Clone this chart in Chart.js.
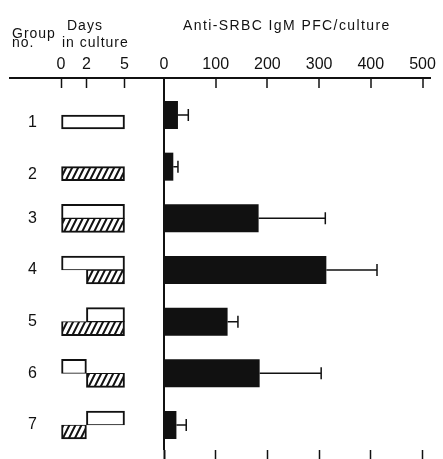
<!DOCTYPE html>
<html>
<head>
<meta charset="utf-8">
<title>Anti-SRBC IgM PFC per culture</title>
<script src="https://cdn.jsdelivr.net/npm/chart.js@4.4.1/dist/chart.umd.min.js"></script>
<style>
  html, body { margin: 0; padding: 0; background: #fff; }
  #wrap { position: relative; width: 443px; height: 459px; overflow: hidden; }
  #chart { position: absolute; left: 0; top: 0; }
  .hdr {
    position: absolute; font: 14px 'Liberation Sans', Arial, sans-serif;
    line-height: 14px; letter-spacing: 1px; color: #111; white-space: nowrap;
  }
</style>
</head>
<body>
<div id="wrap">
  <canvas id="chart" width="443" height="459"></canvas>
  <div class="hdr" style="left:12px; top:26px">Group</div>
  <div class="hdr" style="left:12px; top:35px">no.</div>
  <div class="hdr" style="left:67px; top:18px">Days</div>
  <div class="hdr" style="left:62px; top:35px">in culture</div>
  <div class="hdr" style="left:183px; top:18px; letter-spacing:1.4px">Anti-SRBC IgM PFC/culture</div>
</div>
<script>
// groups, top to bottom
const groups = [1, 2, 3, 4, 5, 6, 7];
const groupLabels = ['1', '2', '3', '4', '5', '6', '7'];

// culture schedule in days: upper row is the open box, lower row hatched (except group 1)
const upperDays = [null, null, [0, 5], [0, 5], [2, 5], [0, 2], [2, 5]];
const lowerDays = [[0, 5], [0, 5], [0, 5], [2, 5], [0, 5], [2, 5], [0, 2]];
const lowerHatched = [false, true, true, true, true, true, true];

// anti-SRBC IgM PFC / culture: mean and the (+) error
const pfcMean = [27, 18, 183, 314, 123, 185, 24];
const pfcErr = [20, 9, 129, 98, 20, 119, 19];

const dayTicks = [0, 2, 5];
const pfcTicks = [0, 100, 200, 300, 400, 500];

const INK = '#111';
const tickFont = { family: "'Liberation Sans', Arial, sans-serif", size: 16 };

// the days axis and the PFC axis share the top edge, side by side
const DAYS_W = 154, PFC_W = 266, PFC_MAX = 514.5;

function only(vals) {
  return (scale) => { scale.ticks = vals.map((v) => ({ value: v })); };
}
// fixed scale box size, and no extra label padding pushed onto the chart area
function fixed(prop, px) {
  return (s) => {
    s[prop] = px;
    s.paddingLeft = s.paddingRight = s.paddingTop = s.paddingBottom = 0;
  };
}
const isZero = (c) => !!(c.tick && c.tick.value === 0);

// diagonal hatching for the lower boxes
function makeHatch() {
  const c = document.createElement('canvas');
  c.width = 6; c.height = 12;
  const g = c.getContext('2d');
  g.fillStyle = '#fff';
  g.fillRect(0, 0, 6, 12);
  g.strokeStyle = INK;
  g.lineWidth = 2;
  g.beginPath();
  [-6, 0, 6].forEach((dx) => { g.moveTo(-1 + dx, 14); g.lineTo(7 + dx, -2); });
  g.stroke();
  return g.createPattern(c, 'repeat');
}
const hatch = makeHatch();

// + error whiskers on the PFC bars
const errorBars = {
  id: 'errorBars',
  afterDatasetsDraw(chart) {
    const meta = chart.getDatasetMeta(0);
    const x = chart.scales.x;
    const ctx = chart.ctx;
    ctx.save();
    ctx.strokeStyle = INK;
    ctx.lineWidth = 1.5;
    meta.data.forEach((bar, i) => {
      const x0 = x.getPixelForValue(pfcMean[i]);
      const x1 = x.getPixelForValue(pfcMean[i] + pfcErr[i]);
      ctx.beginPath();
      ctx.moveTo(x0, bar.y); ctx.lineTo(x1, bar.y);
      ctx.moveTo(x1, bar.y - 6); ctx.lineTo(x1, bar.y + 6);
      ctx.stroke();
    });
    ctx.restore();
  }
};

const groupAxis = {
  type: 'linear', reverse: true, min: 0.284, max: 7.484, offset: false,
  afterBuildTicks: only(groups)
};

new Chart(document.getElementById('chart'), {
  type: 'bar',
  data: {
    datasets: [
      {
        label: 'PFC/culture',
        xAxisID: 'x', yAxisID: 'y',
        data: groups.map((g, i) => ({ x: pfcMean[i], y: g })),
        backgroundColor: INK, borderWidth: 0,
        grouped: false, barPercentage: 1, maxBarThickness: 28
      },
      {
        label: 'upper',
        xAxisID: 'xd', yAxisID: 'yd',
        data: groups.map((g, i) => ({ x: upperDays[i], y: g })).filter((d) => d.x),
        backgroundColor: '#fff', borderColor: INK, borderSkipped: false,
        borderWidth: { top: 2, left: 2, right: 2, bottom: 1 },
        barThickness: 14
      },
      {
        label: 'lower',
        xAxisID: 'xd', yAxisID: 'yd',
        data: groups.map((g, i) => ({ x: lowerDays[i], y: g })),
        backgroundColor: (c) => (lowerHatched[c.dataIndex] ? hatch : '#fff'),
        borderColor: INK, borderSkipped: false,
        borderWidth: (c) => ({ top: upperDays[c.dataIndex] ? 1 : 2, left: 2, right: 2, bottom: 2 }),
        barThickness: 14
      }
    ]
  },
  options: {
    indexAxis: 'y',
    responsive: false,
    animation: false,
    devicePixelRatio: 1,
    layout: { padding: { left: 0, right: 13, top: 0, bottom: 0 } },
    plugins: { legend: { display: false }, tooltip: { enabled: false } },
    scales: {
      xd: {
        type: 'linear', position: 'top', stack: 'head', stackWeight: DAYS_W, weight: 1,
        min: -4.02, max: 8.11,
        afterBuildTicks: only(dayTicks),
        border: { color: INK, width: 2 },
        grid: { drawOnChartArea: false, tickLength: -10, tickColor: INK, tickWidth: 1.5 },
        ticks: { color: INK, font: tickFont, padding: 14, autoSkip: false, maxRotation: 0 },
        afterFit: fixed('height', 78)
      },
      x: {
        type: 'linear', position: 'top', stack: 'head', stackWeight: PFC_W, weight: 0,
        min: 0, max: PFC_MAX,
        afterBuildTicks: only(pfcTicks),
        border: { color: INK, width: 2 },
        grid: {
          drawOnChartArea: true, tickLength: -10, tickColor: INK,
          color: (c) => (isZero(c) ? INK : 'rgba(0,0,0,0)'),
          lineWidth: (c) => (isZero(c) ? 2 : 0),
          tickWidth: (c) => (isZero(c) ? 2 : 1.5)
        },
        ticks: { color: INK, font: tickFont, padding: 14, autoSkip: false, maxRotation: 0 },
        afterFit: fixed('height', 78)
      },
      xb: {
        type: 'linear', position: 'bottom',
        min: -PFC_MAX * DAYS_W / PFC_W, max: PFC_MAX,
        afterBuildTicks: only(pfcTicks),
        border: { display: false },
        grid: {
          drawOnChartArea: false, tickLength: 9, tickColor: INK,
          tickWidth: (c) => (isZero(c) ? 2 : 1.5)
        },
        ticks: { display: false },
        afterFit: fixed('height', 9)
      },
      y: Object.assign({}, groupAxis, {
        position: 'left',
        grid: { display: false },
        border: { display: false },
        ticks: {
          mirror: true, crossAlign: 'center', padding: 18, color: INK,
          font: Object.assign({ lineHeight: 1 }, tickFont),
          // single-box groups: number sits beside the box, in the lower half
          callback: (v) => {
            const i = groups.indexOf(v);
            return upperDays[i] ? groupLabels[i] : ['', groupLabels[i]];
          }
        },
        afterFit: fixed('width', 10)
      }),
      yd: Object.assign({}, groupAxis, { display: false, afterFit: fixed('width', 0) })
    }
  },
  plugins: [errorBars]
});
</script>
</body>
</html>
